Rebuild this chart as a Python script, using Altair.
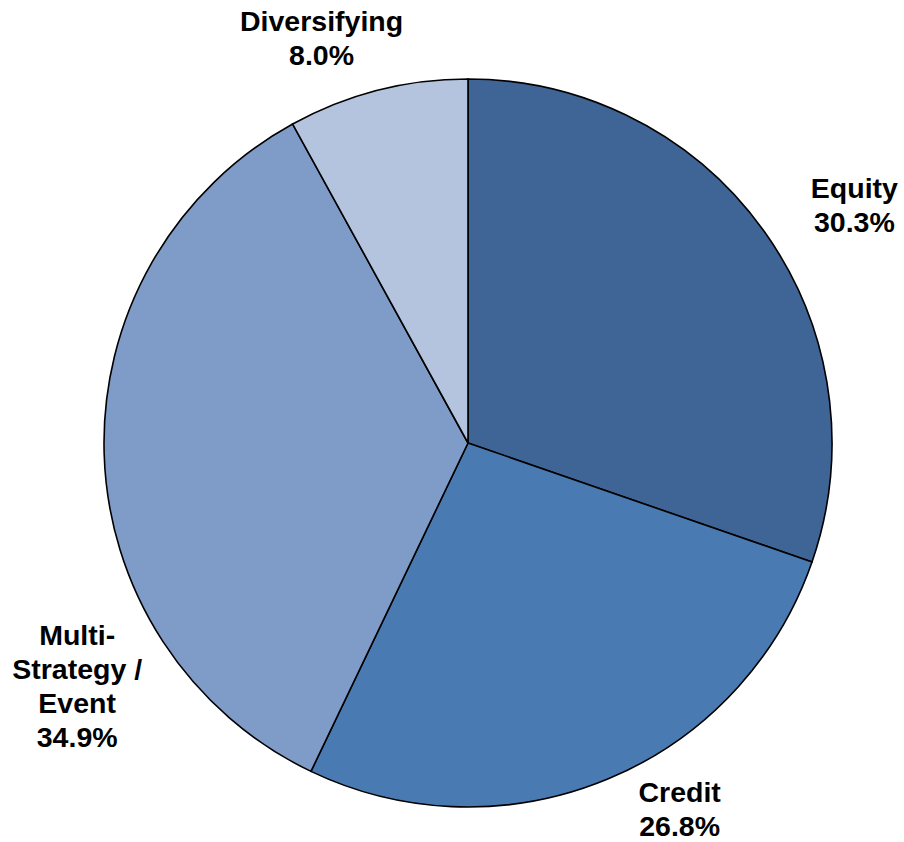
import altair as alt
import pandas as pd

# Strategy allocation (percent of portfolio), clockwise from 12 o'clock
categories = ["Equity", "Credit", "Multi-Strategy / Event", "Diversifying"]
shares = [30.3, 26.8, 34.9, 8.0]
label_lines = [
    ["Equity", "30.3%"],
    ["Credit", "26.8%"],
    ["Multi-", "Strategy /", "Event", "34.9%"],
    ["Diversifying", "8.0%"],
]
colors = ["#3E6596", "#4A7AB2", "#7F9CC8", "#B4C3DE"]

df = pd.DataFrame({
    "category": categories,
    "share": shares,
    "order": list(range(len(categories))),
    "label": ["\n".join(lines) for lines in label_lines],
})

theta = alt.Theta("share:Q", stack=True)
color = alt.Color("category:N", scale=alt.Scale(domain=categories, range=colors), legend=None)
order = alt.Order("order:Q")

base = alt.Chart(df)

pie = base.mark_arc(outerRadius=364, stroke="black", strokeWidth=1.6).encode(
    theta=theta, color=color, order=order
)

# Per-label nudges from the slice mid-angle anchor (first line of each label)
nudges = {
    "Equity": (28, 1),
    "Credit": (42, -56),
    "Multi-Strategy / Event": (49, 181),
    "Diversifying": (-37, 5),
}

labels = []
for cat, (dx, dy) in nudges.items():
    labels.append(
        base.mark_text(
            radius=440, dx=dx, dy=dy, font="Liberation Sans", fontWeight="bold",
            fontSize=28.5, lineBreak="\n", lineHeight=34, align="center",
            baseline="middle", color="black",
        ).encode(
            theta=theta, order=order, text="label:N",
            opacity=alt.condition(alt.datum.category == cat, alt.value(1), alt.value(0)),
        )
    )

chart = alt.layer(pie, *labels).properties(
    width=872, height=798,
    padding={"left": 32, "top": 44, "right": 0, "bottom": 0},
    autosize=alt.AutoSizeParams(type="none"),
).configure_view(stroke=None)

chart.save("out.html", embed_options={"renderer": "svg", "actions": False})
